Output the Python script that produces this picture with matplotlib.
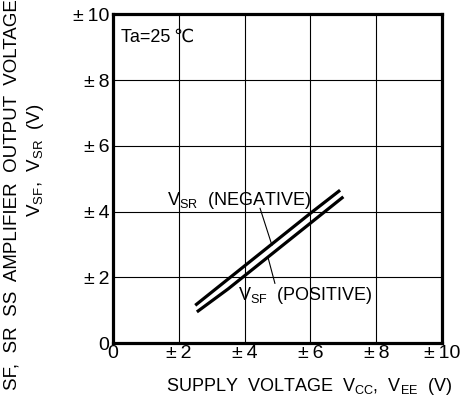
import matplotlib
matplotlib.use("Agg")
import matplotlib.pyplot as plt

plt.rcParams['font.family'] = ['Liberation Sans', 'DejaVu Sans']
plt.rcParams['mathtext.fontset'] = 'custom'
plt.rcParams['mathtext.rm'] = 'Liberation Sans'

# supply voltage (V) and output voltage (V)
vsr_x = [2.5, 3.5, 4.5, 5.5, 6.0, 6.9]
vsr_y = [1.15, 1.95, 2.75, 3.55, 3.95, 4.65]
vsf_x = [2.55, 3.5, 4.5, 5.5, 6.0, 7.0]
vsf_y = [0.95, 1.65, 2.45, 3.25, 3.65, 4.45]

ticks = [0, 2, 4, 6, 8, 10]
tick_labels = ['0', '±\u20092', '±\u20094', '±\u20096', '±\u20098', '±\u200910']

fig = plt.figure(figsize=(4.61, 4.09), dpi=100)
ax = fig.add_axes([0.245, 0.161, 0.714, 0.804])

ax.plot(vsr_x, vsr_y, color='black', linewidth=2.3, solid_capstyle='butt')
ax.plot(vsf_x, vsf_y, color='black', linewidth=2.3, solid_capstyle='butt')

ax.set_xlim(0, 10)
ax.set_ylim(0, 10)
ax.set_xticks(ticks)
ax.set_yticks(ticks)
ax.set_xticklabels(tick_labels)
ax.set_yticklabels(tick_labels)
ax.tick_params(length=0, labelsize=14)
ax.tick_params(axis='x', pad=1.5)
ax.tick_params(axis='y', pad=2.5)
ax.grid(True, color='black', linewidth=0.8)
for s in ax.spines.values():
    s.set_linewidth(2.3)

ax.text(0.25, 9.3, 'Ta=25\u2009℃', fontsize=13, va='center')

ax.text(1.64, 4.35, r'V$_{\rm SR}$  (NEGATIVE)', fontsize=13, va='center')
ax.plot([4.47, 4.83], [4.10, 2.98], color='black', linewidth=0.8)
ax.text(3.80, 1.46, r'V$_{\rm SF}$  (POSITIVE)', fontsize=13, va='center')
ax.plot([4.92, 4.71], [1.82, 2.61], color='black', linewidth=0.8)

fig.text(0.670, 0.054, r'SUPPLY  VOLTAGE  V$_{\rm CC}$,  V$_{\rm EE}$  (V)',
         fontsize=13, ha='center', va='center')
fig.text(0.026, 0.046, 'SF,  SR  SS  AMPLIFIER  OUTPUT  VOLTAGE', fontsize=13.5,
         rotation=90, ha='center', va='bottom')
fig.text(0.078, 0.469, r'V$_{\rm SF}$,  V$_{\rm SR}$  (V)', fontsize=13.5,
         rotation=90, ha='center', va='bottom')

fig.savefig('out.png', dpi=100)
